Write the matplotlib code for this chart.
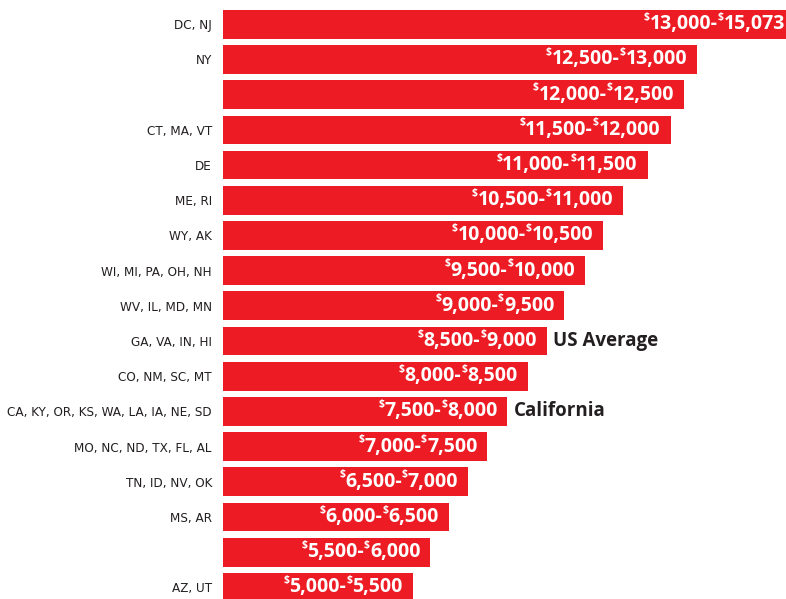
import matplotlib
matplotlib.use("Agg")
import matplotlib.pyplot as plt
from matplotlib import font_manager as fm
import numpy as np

# per pupil spending ranges, top to bottom
states = ["DC, NJ", "NY", "", "CT, MA, VT", "DE", "ME, RI", "WY, AK",
          "WI, MI, PA, OH, NH", "WV, IL, MD, MN", "GA, VA, IN, HI",
          "CO, NM, SC, MT", "CA, KY, OR, KS, WA, LA, IA, NE, SD",
          "MO, NC, ND, TX, FL, AL", "TN, ID, NV, OK", "MS, AR", "", "AZ, UT"]
low = [13000, 12500, 12000, 11500, 11000, 10500, 10000, 9500, 9000,
       8500, 8000, 7500, 7000, 6500, 6000, 5500, 5000]
high = [15073, 13000, 12500, 12000, 11500, 11000, 10500, 10000, 9500,
        9000, 8500, 8000, 7500, 7000, 6500, 6000, 5500]
# bar lengths as drawn in the picture
bar_len = [15073, 12500, 12150, 11800, 11200, 10550, 10030, 9550, 9000,
           8530, 8030, 7500, 6970, 6470, 5950, 5470, 5000]
notes = {9: "US Average", 11: "California"}

RED = "#ED1C24"
DARK = "#231F20"
DPI = 100


def pick_narrow():
    # look for a condensed face, else fall back to a plain one at smaller size
    cands = [("Liberation Sans Narrow", "normal", "narrow"),
             ("DejaVu Sans", "condensed", "condensed"),
             ("Roboto Condensed", "normal", "condensed"),
             ("Open Sans Condensed", "normal", "condensed"),
             ("Noto Sans", "condensed", "condensed")]
    for fam, stretch, key in cands:
        try:
            p = fm.findfont(fm.FontProperties(family=fam, stretch=stretch),
                            fallback_to_default=False)
        except ValueError:
            continue
        if key in p.lower().replace("-", "").replace("_", ""):
            return fm.FontProperties(fname=p), 9.6
    return fm.FontProperties(family="Roboto"), 7.5


label_fp, label_size = pick_narrow()
label_fp.set_size(label_size)

fig = plt.figure(figsize=(7.86, 5.99), dpi=DPI)
ax = fig.add_axes([223 / 786, 0, 1 - 223 / 786, 1])

y = np.arange(len(states))
ax.barh(y, bar_len, height=0.815, color=RED, left=0)
ax.set_xlim(0, 564 / 0.038)
ax.set_ylim(16.33, -0.69)

ax.set_yticks(y)
ax.set_yticklabels(states, fontproperties=label_fp, color=DARK)
ax.tick_params(axis="y", length=0, pad=8)
ax.set_xticks([])
for s in ax.spines.values():
    s.set_visible(False)

renderer = fig.canvas.get_renderer()
val_font = dict(family="Open Sans", weight="bold", color="white")


def rich_label(xv, yv, parts, pad_px):
    # place pieces right to left, superscript $ signs smaller and raised
    off = -pad_px
    for s, sup in reversed(parts):
        fs = 7.5 if sup else 14
        dy = 5 if sup else 0
        t = ax.annotate(s, (xv, yv), xytext=(off * 72 / DPI, dy),
                        textcoords="offset points", ha="right", va="center",
                        fontsize=fs, annotation_clip=False, **val_font)
        w = t.get_window_extent(renderer).width
        off -= w


for i in range(len(states)):
    parts = [("$", True), (f"{low[i]:,}-", False),
             ("$", True), (f"{high[i]:,}", False)]
    rich_label(bar_len[i], y[i], parts, 10)
    if i in notes:
        ax.annotate(notes[i], (bar_len[i], y[i]), xytext=(6 * 72 / DPI, 0),
                    textcoords="offset points", ha="left", va="center",
                    fontsize=13.5, weight="bold", color=DARK, family="Open Sans",
                    annotation_clip=False)

fig.savefig("out.png", dpi=DPI)
